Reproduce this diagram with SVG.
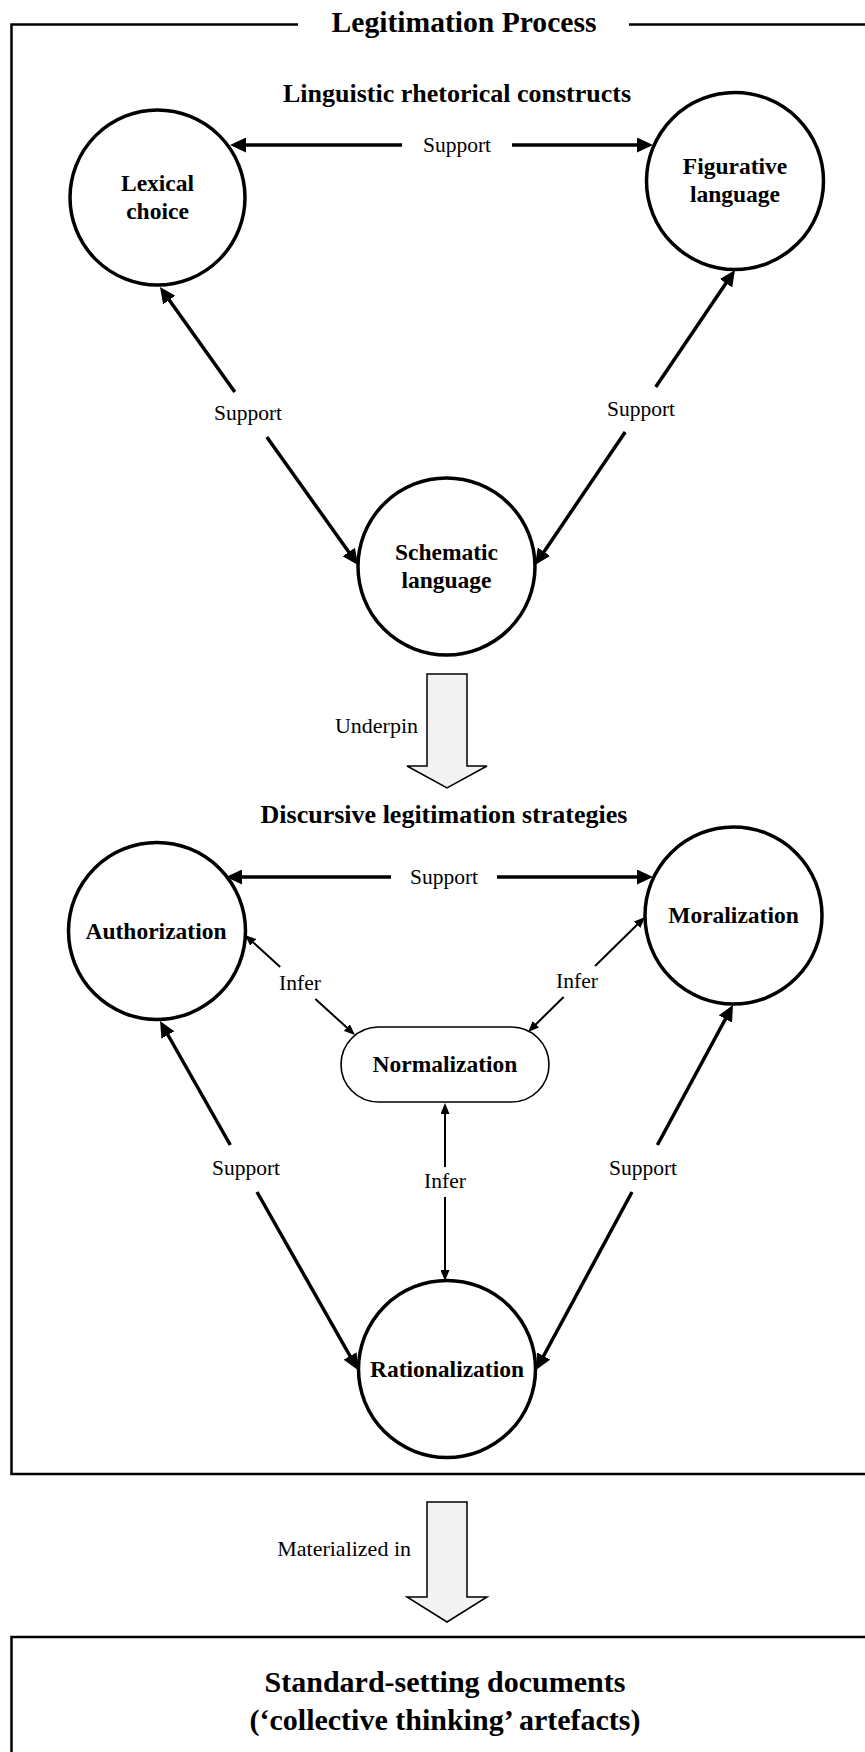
<svg xmlns="http://www.w3.org/2000/svg" width="865" height="1752" viewBox="0 0 865 1752">
<style>
.frame{fill:none;stroke:#000;stroke-width:2.5}
.node{fill:#fff;stroke:#000;stroke-width:3.5}
.pill{fill:#fff;stroke:#000;stroke-width:1.6}
.blk{fill:#f2f2f2;stroke:#000;stroke-width:1.5;stroke-linejoin:miter}
.thick{fill:none;stroke:#000;stroke-width:3.5}
.thin{fill:none;stroke:#000;stroke-width:2}
text{font-family:"Liberation Serif","Times New Roman",serif;fill:#000}
.ttl{font-size:29.6px;font-weight:bold;text-anchor:middle}
.bt{font-size:30px;font-weight:bold;text-anchor:middle}
.hd{font-size:26px;font-weight:bold;text-anchor:middle}
.nl{font-size:23.5px;font-weight:bold;text-anchor:middle}
.el{font-size:21.5px;text-anchor:middle}
.bl{font-size:22px;text-anchor:end}
</style>
<defs>
<marker id="ahT" viewBox="0 0 16 15" refX="8" refY="7.5" markerWidth="16" markerHeight="15" markerUnits="userSpaceOnUse" orient="auto-start-reverse"><path d="M0,0 L16,7.5 L0,15 z" fill="#000"/></marker>
<marker id="ahS" viewBox="0 0 11 9" refX="7" refY="4.5" markerWidth="11" markerHeight="9" markerUnits="userSpaceOnUse" orient="auto-start-reverse"><path d="M0,0 L11,4.5 L0,9 z" fill="#000"/></marker>
</defs>

<g id="frame">
<path class="frame" d="M298,24.5 H11.5 V1474 H866"/>
<path class="frame" d="M629,24.5 H866"/>
<text class="ttl" x="464" y="32">Legitimation Process</text>
</g>

<g id="heading-linguistic"><text class="hd" x="457" y="102">Linguistic rhetorical constructs</text></g>
<g id="heading-discursive"><text class="hd" x="444" y="823">Discursive legitimation strategies</text></g>

<g id="connectors">
<path class="thick" d="M238,145 H402" marker-start="url(#ahT)"/>
<path class="thick" d="M512,145 H645" marker-end="url(#ahT)"/>
<text class="el" x="457" y="152">Support</text>
<path class="thick" d="M164.6,293.5 L234.8,392" marker-start="url(#ahT)"/>
<path class="thick" d="M266.8,437 L353.4,558.5" marker-end="url(#ahT)"/>
<text class="el" x="248" y="420">Support</text>
<path class="thick" d="M730.5,276.6 L655.7,387" marker-start="url(#ahT)"/>
<path class="thick" d="M625.2,432 L539.5,558.4" marker-end="url(#ahT)"/>
<text class="el" x="641" y="416">Support</text>
<path class="blk" d="M427,674 H467 V766 H487 L447,788 L407,766 H427 Z"/>
<text class="bl" x="418" y="733">Underpin</text>
<path class="thick" d="M234,877 H391" marker-start="url(#ahT)"/>
<path class="thick" d="M497,877 H645" marker-end="url(#ahT)"/>
<text class="el" x="444" y="884">Support</text>
<path class="thin" d="M248,937.7 L280.2,967" marker-start="url(#ahS)"/>
<path class="thin" d="M315.4,999 L352,1032.3" marker-end="url(#ahS)"/>
<text class="el" x="300" y="990">Infer</text>
<path class="thin" d="M642.2,919.8 L595.1,966" marker-start="url(#ahS)"/>
<path class="thin" d="M563.6,997 L530.9,1029.2" marker-end="url(#ahS)"/>
<text class="el" x="577" y="988">Infer</text>
<path class="thin" d="M445,1107 V1167" marker-start="url(#ahS)"/>
<path class="thin" d="M445,1197 V1277" marker-end="url(#ahS)"/>
<text class="el" x="445" y="1188">Infer</text>
<path class="thick" d="M164,1028 L230.3,1145" marker-start="url(#ahT)"/>
<path class="thick" d="M257,1192 L354,1363" marker-end="url(#ahT)"/>
<text class="el" x="246" y="1175">Support</text>
<path class="thick" d="M729.2,1012 L657.4,1145" marker-start="url(#ahT)"/>
<path class="thick" d="M632,1192 L539.8,1363" marker-end="url(#ahT)"/>
<text class="el" x="643" y="1175">Support</text>
<path class="blk" d="M427,1502 H467 V1597 H487 L447,1622 L407,1597 H427 Z"/>
<text class="bl" x="411" y="1556">Materialized in</text>
</g>

<g id="lexical-choice">
<circle class="node" cx="157.5" cy="197.5" r="87.5"/>
<text class="nl" x="157.5" y="191">Lexical</text>
<text class="nl" x="157.5" y="219">choice</text>
</g>
<g id="figurative-language">
<circle class="node" cx="735" cy="181" r="88.5"/>
<text class="nl" x="735" y="174">Figurative</text>
<text class="nl" x="735" y="202">language</text>
</g>
<g id="schematic-language">
<circle class="node" cx="446.5" cy="566.5" r="88.5"/>
<text class="nl" x="446.5" y="560">Schematic</text>
<text class="nl" x="446.5" y="588">language</text>
</g>
<g id="authorization">
<circle class="node" cx="157" cy="931" r="88.5"/>
<text class="nl" x="156" y="939">Authorization</text>
</g>
<g id="moralization">
<circle class="node" cx="733.5" cy="915.5" r="88.5"/>
<text class="nl" x="733.5" y="923">Moralization</text>
</g>
<g id="normalization">
<rect class="pill" x="341" y="1027" width="208" height="75" rx="37.5" ry="37.5"/>
<text class="nl" x="445" y="1072">Normalization</text>
</g>
<g id="rationalization">
<circle class="node" cx="447" cy="1369" r="88.5"/>
<text class="nl" x="447" y="1377">Rationalization</text>
</g>

<g id="standard-setting-documents">
<path class="frame" d="M866,1637 H11.5 V1752"/>
<text class="bt" x="445" y="1692">Standard-setting documents</text>
<text class="bt" x="445" y="1730">(‘collective thinking’ artefacts)</text>
</g>
</svg>
